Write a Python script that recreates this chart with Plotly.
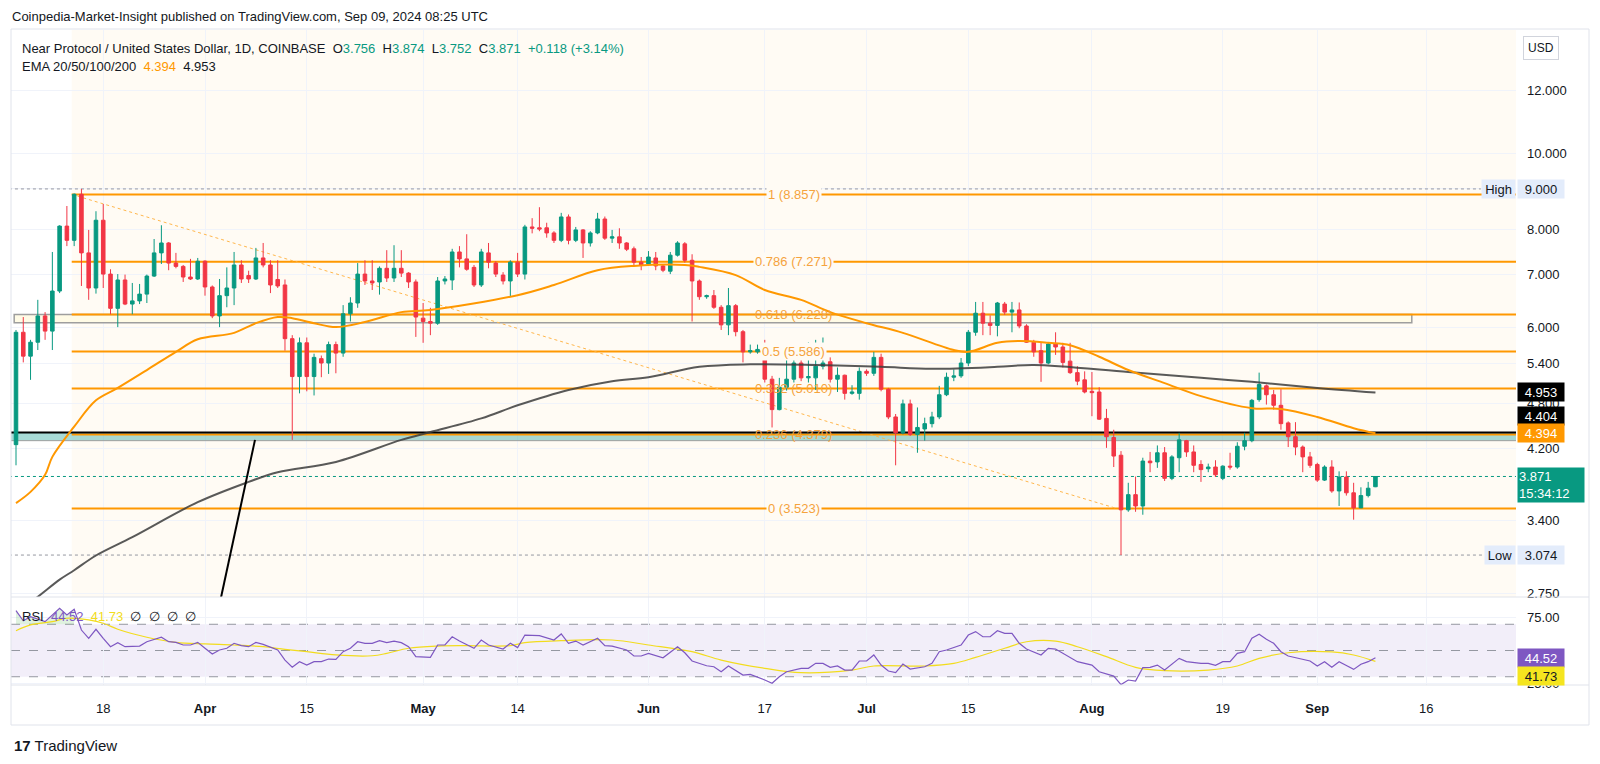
import math
import pandas as pd
import plotly.graph_objects as go
from plotly.subplots import make_subplots

# NEAR/USD daily candles (Coinbase), 6 Mar - 9 Sep 2024
dates = pd.date_range("2024-03-06", "2024-09-09", freq="D")

opens = [
    4.25, 5.91, 5.51, 5.74, 6.20, 5.93, 6.67, 8.07, 7.74, 8.86, 7.46, 6.73, 8.21, 7.01, 6.34, 6.89, 6.42, 6.48, 6.61, 6.97, 7.46, 7.68, 7.24, 7.17, 6.95, 6.91,
    7.28, 6.75, 6.20, 6.58, 6.73, 7.20, 6.98, 6.91, 7.35, 7.20, 6.90, 6.79, 5.80, 5.19, 5.73, 5.19, 5.47, 5.40, 5.70, 5.56, 6.24, 6.44, 7.01, 6.87, 6.85, 7.13, 6.93, 7.13, 7.03, 6.85,
    6.16, 6.10, 6.07, 6.87, 6.89, 7.48, 7.33, 7.15, 6.79, 7.46, 7.24, 6.99, 6.87, 7.26, 7.01, 8.05, 8.03, 8.03, 7.91, 7.74, 8.29, 7.74, 7.98, 7.68, 7.91, 8.24, 7.79, 7.82, 7.68, 7.55, 7.26,
    7.22, 7.35, 7.18, 7.07, 7.41, 7.66, 7.30, 6.87, 6.56, 6.58, 6.36, 6.04, 6.39, 5.92, 5.58, 5.58, 5.62, 5.15, 4.71, 5.03, 5.15, 5.40, 5.17, 5.17, 5.35, 5.42, 5.15, 5.21, 4.94, 4.94,
    5.27, 5.24, 5.49, 5.00, 4.61, 4.40, 4.79, 4.38, 4.45, 4.52, 4.61, 4.92, 5.18, 5.20, 5.40, 5.91, 6.25, 6.07, 6.03, 6.42, 6.27, 6.31, 6.02, 5.74, 5.60, 5.40, 5.71, 5.66, 5.43, 5.25, 5.14,
    4.97, 4.96, 4.59, 4.34, 4.12, 3.51, 3.67, 3.55, 4.05, 4.04, 4.15, 3.85, 4.09, 4.30, 4.16, 4.01, 3.96, 3.98, 3.85, 3.99, 3.98, 4.23, 4.30, 4.85, 5.05, 4.92, 4.77, 4.53, 4.35, 4.22, 4.10,
    4.01, 3.83, 3.98, 3.71, 3.865, 3.69, 3.53, 3.66, 3.756,
]
highs = [
    5.95, 6.18, 5.78, 6.50, 6.27, 7.48, 8.09, 8.56, 8.88, 9.00, 7.98, 8.43, 8.61, 7.11, 7.01, 7.00, 6.83, 6.81, 7.00, 7.77, 8.09, 7.70, 7.46, 7.20, 7.33, 7.35,
    7.30, 6.78, 6.91, 7.15, 7.48, 7.30, 7.08, 7.57, 7.68, 7.30, 7.30, 6.90, 5.86, 5.82, 5.82, 5.55, 5.52, 5.75, 5.75, 6.40, 6.55, 7.24, 7.30, 7.30, 7.17, 7.52, 7.63, 7.52, 7.05, 6.90,
    6.44, 6.35, 6.95, 6.97, 7.55, 7.61, 7.88, 7.20, 7.55, 7.68, 7.28, 7.05, 7.30, 7.46, 8.10, 8.26, 8.53, 8.15, 7.95, 8.39, 8.35, 8.05, 8.00, 7.95, 8.39, 8.30, 7.98, 8.02, 7.70, 7.60, 7.37,
    7.50, 7.48, 7.20, 7.48, 7.72, 7.70, 7.43, 6.90, 6.60, 6.69, 6.40, 6.73, 6.42, 5.95, 5.70, 5.70, 5.78, 5.20, 5.17, 5.49, 5.45, 5.50, 5.74, 5.78, 5.82, 5.49, 5.33, 5.22, 5.06, 5.33,
    5.30, 5.58, 5.55, 5.02, 4.65, 4.85, 4.85, 4.74, 4.60, 4.68, 5.05, 5.25, 5.30, 5.48, 5.95, 6.46, 6.46, 6.21, 6.46, 6.46, 6.46, 6.45, 6.05, 5.78, 5.73, 5.73, 5.91, 5.73, 5.73, 5.35, 5.27,
    5.26, 5.03, 4.72, 4.44, 4.17, 3.80, 3.87, 4.09, 4.16, 4.24, 4.22, 4.12, 4.40, 4.31, 4.24, 4.06, 4.02, 4.06, 4.00, 4.15, 4.28, 4.40, 4.86, 5.25, 5.07, 4.99, 5.00, 4.55, 4.54, 4.24, 4.16,
    4.03, 4.00, 4.06, 3.93, 3.93, 3.80, 3.75, 3.81, 3.874,
]
lows = [
    4.00, 5.41, 5.14, 5.61, 5.78, 5.61, 6.63, 7.61, 7.61, 6.77, 6.50, 6.62, 6.73, 6.23, 6.00, 6.40, 6.23, 6.42, 6.44, 6.95, 7.22, 7.09, 7.13, 6.85, 6.89, 6.89,
    6.58, 6.16, 6.00, 6.36, 6.40, 6.83, 6.83, 6.89, 7.15, 6.63, 6.73, 5.60, 4.31, 4.94, 4.97, 4.91, 5.18, 5.23, 5.24, 5.50, 6.10, 6.35, 6.79, 6.69, 6.60, 6.85, 6.85, 6.95, 6.73, 5.83,
    5.73, 5.86, 6.04, 6.80, 6.69, 7.15, 7.08, 6.75, 6.75, 7.13, 6.95, 6.80, 6.56, 6.95, 6.90, 7.90, 7.95, 7.80, 7.68, 7.70, 7.65, 7.70, 7.35, 7.60, 7.88, 7.75, 7.68, 7.55, 7.50, 7.18, 7.09,
    7.18, 7.09, 7.05, 7.01, 7.38, 7.25, 6.10, 6.50, 6.52, 6.33, 5.95, 5.86, 5.84, 5.41, 5.55, 5.55, 5.10, 4.47, 4.70, 4.98, 5.10, 5.12, 5.10, 4.99, 5.30, 5.10, 4.96, 4.85, 4.92, 4.85,
    5.20, 5.20, 4.97, 4.58, 4.00, 4.38, 4.36, 4.15, 4.30, 4.47, 4.58, 4.90, 5.12, 5.17, 5.35, 5.85, 5.86, 5.86, 5.84, 6.22, 5.91, 5.98, 5.73, 5.50, 5.11, 5.38, 5.53, 5.33, 5.23, 5.06, 4.94,
    4.62, 4.57, 4.21, 3.98, 3.074, 3.49, 3.49, 3.46, 3.92, 3.97, 3.82, 3.83, 3.92, 4.10, 3.92, 3.81, 3.92, 3.865, 3.83, 3.95, 3.96, 4.18, 4.28, 4.82, 4.78, 4.71, 4.44, 4.22, 4.12, 3.92, 3.97,
    3.81, 3.82, 3.69, 3.55, 3.66, 3.41, 3.53, 3.64, 3.752,
]
closes = [
    5.91, 5.51, 5.74, 6.20, 5.93, 6.67, 8.07, 7.74, 8.86, 7.46, 6.73, 8.21, 7.01, 6.34, 6.89, 6.42, 6.48, 6.61, 6.97, 7.46, 7.68, 7.24, 7.17, 6.95, 6.91, 7.28,
    6.75, 6.20, 6.58, 6.73, 7.20, 6.91, 6.91, 7.35, 7.20, 6.79, 6.77, 5.80, 5.19, 5.73, 5.19, 5.49, 5.40, 5.70, 5.56, 6.24, 6.44, 7.01, 6.87, 6.83, 7.13, 6.93, 7.13, 7.03, 6.85, 6.18,
    6.10, 6.07, 6.87, 6.91, 7.48, 7.33, 7.11, 6.79, 7.48, 7.26, 7.01, 6.87, 7.26, 7.01, 8.05, 8.02, 8.00, 7.91, 7.74, 8.29, 7.74, 7.98, 7.68, 7.91, 8.24, 7.79, 7.82, 7.68, 7.54, 7.26, 7.20,
    7.37, 7.18, 7.09, 7.41, 7.68, 7.30, 6.87, 6.56, 6.58, 6.36, 6.04, 6.39, 5.92, 5.58, 5.60, 5.62, 5.15, 4.71, 5.03, 5.15, 5.40, 5.17, 5.19, 5.35, 5.40, 5.15, 5.21, 4.94, 4.96, 5.27,
    5.24, 5.49, 5.00, 4.61, 4.40, 4.79, 4.38, 4.47, 4.52, 4.61, 4.92, 5.18, 5.20, 5.40, 5.91, 6.25, 6.07, 6.03, 6.44, 6.27, 6.31, 6.02, 5.74, 5.58, 5.40, 5.71, 5.66, 5.41, 5.25, 5.12, 4.96,
    4.95, 4.58, 4.35, 4.11, 3.51, 3.67, 3.55, 4.05, 4.03, 4.15, 3.85, 4.10, 4.31, 4.16, 4.00, 3.95, 3.98, 3.89, 3.99, 3.98, 4.23, 4.30, 4.84, 5.07, 4.92, 4.77, 4.52, 4.35, 4.22, 4.10, 4.00,
    3.83, 3.98, 3.71, 3.865, 3.69, 3.53, 3.66, 3.74, 3.871,
]

# EMA lines
ema_orange_dates = ["2024-03-06", "2024-03-08", "2024-03-10", "2024-03-11", "2024-03-14", "2024-03-17", "2024-03-20", "2024-03-24",
                    "2024-03-28", "2024-03-31", "2024-04-05", "2024-04-08", "2024-04-11", "2024-04-13", "2024-04-16", "2024-04-19",
                    "2024-04-23", "2024-04-28", "2024-05-02", "2024-05-14", "2024-05-19", "2024-05-25", "2024-05-30", "2024-06-06",
                    "2024-06-08", "2024-06-13", "2024-06-17", "2024-06-22", "2024-06-26", "2024-07-01", "2024-07-06", "2024-07-13",
                    "2024-07-15", "2024-07-19", "2024-07-22", "2024-07-26", "2024-07-29", "2024-08-02", "2024-08-06", "2024-08-11",
                    "2024-08-16", "2024-08-23", "2024-08-27", "2024-09-01", "2024-09-06", "2024-09-09"]
ema_orange = [3.58, 3.70, 3.89, 4.10, 4.48, 4.84, 5.02, 5.29, 5.58, 5.79, 5.90, 6.07, 6.18, 6.16, 6.07, 6.00,
              6.09, 6.27, 6.31, 6.59, 6.79, 7.09, 7.18, 7.20, 7.16, 6.99, 6.69, 6.50, 6.27, 6.07, 5.90, 5.61,
              5.58, 5.73, 5.76, 5.73, 5.69, 5.50, 5.29, 5.09, 4.90, 4.73, 4.72, 4.61, 4.46, 4.394]

ema_grey_dates = ["2024-03-06", "2024-03-09", "2024-03-12", "2024-03-14", "2024-03-17", "2024-03-22", "2024-03-31", "2024-04-07",
                  "2024-04-11", "2024-04-19", "2024-04-28", "2024-05-02", "2024-05-09", "2024-05-14", "2024-05-21", "2024-05-27",
                  "2024-06-01", "2024-06-08", "2024-06-15", "2024-06-24", "2024-07-03", "2024-07-10", "2024-07-19", "2024-07-24",
                  "2024-08-06", "2024-08-16", "2024-08-23", "2024-09-01", "2024-09-09"]
ema_grey = [2.60, 2.72, 2.86, 2.94, 3.07, 3.24, 3.59, 3.81, 3.92, 4.04, 4.31, 4.41, 4.59, 4.77, 4.99, 5.12,
            5.18, 5.34, 5.38, 5.37, 5.34, 5.31, 5.34, 5.37, 5.26, 5.17, 5.11, 5.02, 4.953]

# RSI(14) and its moving average
rsi_dates = ["2024-03-06", "2024-03-07", "2024-03-08", "2024-03-10", "2024-03-12", "2024-03-13", "2024-03-14", "2024-03-15",
             "2024-03-16", "2024-03-17", "2024-03-18", "2024-03-19", "2024-03-20", "2024-03-21", "2024-03-23", "2024-03-24",
             "2024-03-26", "2024-03-27", "2024-03-28", "2024-03-29", "2024-03-30", "2024-03-31", "2024-04-01", "2024-04-02",
             "2024-04-03", "2024-04-04", "2024-04-05", "2024-04-06", "2024-04-07", "2024-04-08", "2024-04-09", "2024-04-11",
             "2024-04-12", "2024-04-13", "2024-04-14", "2024-04-15", "2024-04-16", "2024-04-17", "2024-04-18", "2024-04-19",
             "2024-04-20", "2024-04-21", "2024-04-22", "2024-04-23", "2024-04-24", "2024-04-25", "2024-04-26", "2024-04-27",
             "2024-04-28", "2024-04-29", "2024-04-30", "2024-05-01", "2024-05-02", "2024-05-03", "2024-05-04", "2024-05-05",
             "2024-05-06", "2024-05-08", "2024-05-09", "2024-05-10", "2024-05-12", "2024-05-13", "2024-05-14", "2024-05-15",
             "2024-05-17", "2024-05-19", "2024-05-20", "2024-05-21", "2024-05-22", "2024-05-23", "2024-05-25", "2024-05-26",
             "2024-05-27", "2024-05-29", "2024-05-30", "2024-05-31", "2024-06-01", "2024-06-03", "2024-06-05", "2024-06-06",
             "2024-06-07", "2024-06-09", "2024-06-10", "2024-06-11", "2024-06-12", "2024-06-14", "2024-06-15", "2024-06-17",
             "2024-06-18", "2024-06-19", "2024-06-20", "2024-06-22", "2024-06-23", "2024-06-24", "2024-06-25", "2024-06-26",
             "2024-06-27", "2024-06-28", "2024-06-29", "2024-06-30", "2024-07-01", "2024-07-02", "2024-07-03", "2024-07-04",
             "2024-07-05", "2024-07-06", "2024-07-07", "2024-07-09", "2024-07-10", "2024-07-11", "2024-07-12", "2024-07-14",
             "2024-07-15", "2024-07-16", "2024-07-17", "2024-07-18", "2024-07-19", "2024-07-20", "2024-07-21", "2024-07-22",
             "2024-07-23", "2024-07-25", "2024-07-26", "2024-07-27", "2024-07-29", "2024-07-30", "2024-08-01", "2024-08-02",
             "2024-08-04", "2024-08-05", "2024-08-06", "2024-08-07", "2024-08-08", "2024-08-09", "2024-08-10", "2024-08-11",
             "2024-08-13", "2024-08-14", "2024-08-16", "2024-08-17", "2024-08-18", "2024-08-19", "2024-08-20", "2024-08-21",
             "2024-08-22", "2024-08-23", "2024-08-24", "2024-08-25", "2024-08-26", "2024-08-27", "2024-08-28", "2024-08-30",
             "2024-08-31", "2024-09-01", "2024-09-02", "2024-09-03", "2024-09-04", "2024-09-05", "2024-09-06", "2024-09-07",
             "2024-09-08", "2024-09-09"]
rsi_vals = [80.4, 72.7, 75.8, 72.0, 82.2, 77.1, 81.4, 65.6, 59.3, 66.2, 59.3, 52.9, 56.0, 52.9, 53.4, 56.7,
            60.1, 56.7, 56.2, 54.2, 54.2, 56.2, 51.7, 47.3, 50.4, 51.7, 55.5, 53.7, 52.9, 56.2, 54.7, 50.4,
            42.7, 37.2, 41.5, 38.9, 41.5, 41.5, 43.5, 43.3, 49.1, 51.7, 56.7, 55.5, 55.5, 57.5, 56.0, 57.2,
            56.0, 52.9, 45.3, 44.8, 44.8, 54.2, 54.2, 60.5, 57.2, 51.7, 58.0, 54.2, 51.1, 55.5, 52.2, 61.8,
            61.3, 58.0, 62.6, 55.5, 57.2, 54.2, 59.3, 53.7, 53.4, 50.4, 45.8, 45.8, 47.8, 44.5, 52.9, 48.3,
            42.0, 38.4, 37.6, 33.8, 38.2, 31.3, 31.8, 27.5, 25.0, 30.0, 33.8, 36.4, 36.4, 40.2, 40.2, 37.2,
            38.2, 35.1, 35.1, 42.0, 42.0, 46.6, 38.9, 34.4, 33.1, 39.7, 35.9, 37.6, 40.2, 49.1, 50.4, 54.2,
            61.8, 64.4, 60.5, 60.5, 65.1, 63.1, 63.1, 55.5, 51.1, 46.6, 51.7, 51.1, 44.5, 41.5, 38.9, 33.8,
            30.5, 24.0, 27.5, 26.7, 36.9, 37.2, 38.9, 35.1, 44.0, 41.5, 40.2, 40.2, 38.7, 41.5, 41.5, 47.8,
            49.1, 59.3, 62.4, 58.5, 55.5, 49.1, 45.8, 43.5, 42.0, 38.2, 41.5, 37.2, 41.5, 38.5, 35.6, 39.5,
            41.5, 44.52]

rsi_ma_dates = ["2024-03-06", "2024-03-08", "2024-03-11", "2024-03-13", "2024-03-16", "2024-03-18", "2024-03-20", "2024-03-24",
                "2024-03-28", "2024-04-01", "2024-04-05", "2024-04-09", "2024-04-12", "2024-04-15", "2024-04-19", "2024-04-24",
                "2024-04-26", "2024-04-29", "2024-05-03", "2024-05-07", "2024-05-13", "2024-05-15", "2024-05-20", "2024-05-27",
                "2024-06-01", "2024-06-07", "2024-06-11", "2024-06-17", "2024-06-22", "2024-06-29", "2024-07-02", "2024-07-09",
                "2024-07-13", "2024-07-16", "2024-07-20", "2024-07-23", "2024-07-27", "2024-07-30", "2024-08-03", "2024-08-07",
                "2024-08-11", "2024-08-17", "2024-08-21", "2024-08-24", "2024-08-28", "2024-09-03", "2024-09-06", "2024-09-09"]
rsi_ma_vals = [65.1, 69.5, 72.0, 74.6, 73.3, 70.8, 66.2, 60.1, 56.2, 55.0, 54.2, 52.9, 50.9, 49.1, 46.6, 46.0,
               47.8, 51.7, 53.4, 53.7, 53.7, 56.0, 57.5, 58.0, 54.2, 49.1, 42.7, 36.4, 33.1, 35.1, 38.2, 38.2,
               40.2, 44.8, 51.7, 56.7, 57.2, 52.9, 45.3, 37.2, 34.6, 35.1, 38.2, 44.0, 48.3, 48.9, 46.6, 41.73]

# Fibonacci retracement (from the 14 Mar high to the 4 Aug low)
fib_start = "2024-03-13 16:00"
fib_end = "2024-08-04 11:00"
fib_ratios = ["1", "0.786", "0.618", "0.5", "0.382", "0.236", "0"]
fib_prices = [8.857, 7.271, 6.228, 5.586, 5.010, 4.379, 3.523]
fib_label_date = "2024-06-21"

# other drawings
box_prices = [6.228, 6.078]          # grey rectangle
band_prices = [4.404, 4.30]          # teal band + black horizontal line
trend_dates = ["2024-04-02 23:00", "2024-04-07 21:00"]
trend_prices = [2.65, 4.31]
high_price, low_price = 9.000, 3.074
last_close, countdown = 3.871, "15:34:12"
ema_last = [4.394, 4.953]
rsi_last, rsi_ma_last = 44.52, 41.73

price_ticks = [2.75, 3.4, 4.2, 4.8, 5.4, 6, 7, 8, 9, 10, 12]
price_tick_text = ["2.750", "3.400", "4.200", "4.800", "5.400", "6.000", "7.000", "8.000", "9.000", "10.000", "12.000"]
date_ticks = ["2024-03-18", "2024-04-01", "2024-04-15", "2024-05-01", "2024-05-14", "2024-06-01", "2024-06-17",
              "2024-07-01", "2024-07-15", "2024-08-01", "2024-08-19", "2024-09-01", "2024-09-16"]
date_tick_text = ["18", "<b>Apr</b>", "15", "<b>May</b>", "14", "<b>Jun</b>", "17", "<b>Jul</b>", "15",
                  "<b>Aug</b>", "19", "<b>Sep</b>", "16"]

GREEN, RED, ORANGE, TEXT = "#089981", "#f23645", "#ff9800", "#131722"
FONT = "Liberation Sans, Arial, sans-serif"

# pixel frame of the plotting area
L, R, T, B = 11, 1516, 30, 685


def px(x):
    return (x - L) / (R - L)


def py(y):
    return (B - y) / (B - T)


fig = make_subplots(rows=2, cols=1, shared_xaxes=True, vertical_spacing=0, row_heights=[567, 88])

fig.add_trace(go.Scatter(x=ema_grey_dates, y=ema_grey, mode="lines", line=dict(color="rgba(60,60,60,0.85)", width=2, shape="spline"),
                         hoverinfo="skip", showlegend=False), row=1, col=1)
fig.add_trace(go.Scatter(x=ema_orange_dates, y=ema_orange, mode="lines", line=dict(color=ORANGE, width=2, shape="spline"),
                         hoverinfo="skip", showlegend=False), row=1, col=1)
fig.add_trace(go.Candlestick(x=dates, open=opens, high=highs, low=lows, close=closes,
                             increasing=dict(line=dict(color=GREEN, width=1), fillcolor=GREEN),
                             decreasing=dict(line=dict(color=RED, width=1), fillcolor=RED),
                             whiskerwidth=0, hoverinfo="skip", showlegend=False), row=1, col=1)

# RSI pane
fig.add_trace(go.Scatter(x=rsi_dates[:7], y=[70] * 7, mode="lines", line=dict(width=0), hoverinfo="skip", showlegend=False), row=2, col=1)
fig.add_trace(go.Scatter(x=rsi_dates[:7], y=rsi_vals[:7], mode="lines", line=dict(width=0), fill="tonexty",
                         fillcolor="rgba(76,175,80,0.18)", hoverinfo="skip", showlegend=False), row=2, col=1)
fig.add_trace(go.Scatter(x=rsi_ma_dates, y=rsi_ma_vals, mode="lines", line=dict(color="#f2dc1d", width=1.2, shape="spline"),
                         hoverinfo="skip", showlegend=False), row=2, col=1)
fig.add_trace(go.Scatter(x=rsi_dates, y=rsi_vals, mode="lines", line=dict(color="#7e57c2", width=1.2),
                         hoverinfo="skip", showlegend=False), row=2, col=1)

shapes = []
# cream background of the drawing
shapes.append(dict(type="rect", xref="x", yref="y domain", x0=fib_start, x1="2024-10-20", y0=0, y1=1,
                   fillcolor="#fffbf4", line=dict(width=0), layer="below"))
# grey rectangle
shapes.append(dict(type="rect", xref="x", yref="y", x0="2024-03-05 18:00", x1="2024-09-14", y0=box_prices[1], y1=box_prices[0],
                   fillcolor="#fffbe6", line=dict(color="#9e9e9e", width=1.5), layer="between"))
# teal band
shapes.append(dict(type="rect", xref="x", yref="y", x0="2024-02-20", x1="2024-10-20", y0=band_prices[1], y1=band_prices[0],
                   fillcolor="rgba(38,166,154,0.4)", line=dict(color="#9e9e9e", width=1), layer="between"))
# fib levels
for p in fib_prices:
    shapes.append(dict(type="line", xref="x", yref="y", x0=fib_start, x1="2024-10-20", y0=p, y1=p,
                       line=dict(color=ORANGE, width=2), layer="between"))
shapes.append(dict(type="line", xref="x", yref="y", x0=fib_start, x1=fib_end, y0=fib_prices[0], y1=fib_prices[-1],
                   line=dict(color="#ffb74d", width=1, dash="dot"), layer="between"))
# black horizontal line on the band
shapes.append(dict(type="line", xref="x", yref="y", x0="2024-02-20", x1="2024-10-20", y0=band_prices[0], y1=band_prices[0],
                   line=dict(color="#000000", width=2), layer="between"))
# steep black trend line
shapes.append(dict(type="line", xref="x", yref="y", x0=trend_dates[0], x1=trend_dates[1], y0=trend_prices[0], y1=trend_prices[1],
                   line=dict(color="#000000", width=2), layer="above"))
# high / low / last price dotted lines
shapes.append(dict(type="line", xref="x", yref="y", x0="2024-02-20", x1="2024-09-23 12:00", y0=high_price, y1=high_price,
                   line=dict(color="#9598a1", width=1, dash="dot"), layer="between"))
shapes.append(dict(type="line", xref="x", yref="y", x0="2024-02-20", x1="2024-09-23 20:00", y0=low_price, y1=low_price,
                   line=dict(color="#9598a1", width=1, dash="dot"), layer="between"))
shapes.append(dict(type="line", xref="x", yref="y", x0="2024-02-20", x1="2024-10-20", y0=last_close, y1=last_close,
                   line=dict(color=GREEN, width=1, dash="dot"), layer="between"))
# RSI band and levels
shapes.append(dict(type="rect", xref="x2 domain", yref="y2", x0=0, x1=1, y0=30, y1=70,
                   fillcolor="rgba(126,87,194,0.1)", line=dict(width=0), layer="below"))
for lvl in [70, 50, 30]:
    shapes.append(dict(type="line", xref="x2 domain", yref="y2", x0=0, x1=1, y0=lvl, y1=lvl,
                       line=dict(color="#9598a1", width=1, dash="dash"), layer="below"))
# pane borders
for yy in [29, 597, 685, 725]:
    shapes.append(dict(type="line", xref="paper", yref="paper", x0=px(11), x1=px(1589), y0=py(yy), y1=py(yy),
                       line=dict(color="#e0e3eb", width=1)))
for xx in [11, 1589]:
    shapes.append(dict(type="line", xref="paper", yref="paper", x0=px(xx), x1=px(xx), y0=py(29), y1=py(725),
                       line=dict(color="#e0e3eb", width=1)))

ann = []
ann.append(dict(xref="paper", yref="paper", x=px(10), y=py(17), xanchor="left", yanchor="middle", showarrow=False,
                text="Coinpedia-Market-Insight published on TradingView.com, Sep 09, 2024 08:25 UTC",
                font=dict(size=13, color=TEXT)))
sp = "\u00a0\u00a0"
g = lambda s: f"<span style='color:{GREEN}'>{s}</span>"
ann.append(dict(xref="paper", yref="paper", x=px(20), y=py(48), xanchor="left", yanchor="middle", showarrow=False,
                text="Near Protocol / United States Dollar, 1D, COINBASE" + sp + "O" + g("3.756") + sp + "H" + g("3.874")
                     + sp + "L" + g("3.752") + sp + "C" + g("3.871") + sp + g("+0.118 (+3.14%)"),
                font=dict(size=13, color=TEXT)))
ann.append(dict(xref="paper", yref="paper", x=px(20), y=py(66), xanchor="left", yanchor="middle", showarrow=False,
                text="EMA 20/50/100/200" + sp + f"<span style='color:{ORANGE}'>{ema_last[0]:.3f}</span>" + sp + f"{ema_last[1]:.3f}",
                font=dict(size=13, color=TEXT)))
ann.append(dict(xref="paper", yref="paper", x=px(20), y=py(616), xanchor="left", yanchor="middle", showarrow=False,
                text="RSI" + sp + f"<span style='color:#7e57c2'>{rsi_last:.2f}</span>" + sp
                     + f"<span style='color:#f2dc1d'>{rsi_ma_last:.2f}</span>" + sp + "\u2205\u00a0\u00a0\u2205\u00a0\u00a0\u2205\u00a0\u00a0\u2205",
                font=dict(size=13, color=TEXT)))

# fib labels
for r, p in zip(fib_ratios, fib_prices):
    gap = r in ("1", "0.786", "0.5", "0")
    ann.append(dict(xref="x", yref="y", x=fib_label_date, y=math.log10(p), showarrow=False, xanchor="center", yanchor="middle",
                    text=f"{r} ({p:.3f})", font=dict(size=13, color="#f5a33d"),
                    bgcolor="#fffbf4" if gap else "rgba(0,0,0,0)", borderpad=1))


def price_box(val, text, bg, fg, yshift=0, width=44, height=16):
    ann.append(dict(xref="paper", yref="y", x=px(1517), y=math.log10(val), xanchor="left", yanchor="middle", showarrow=False,
                    text=text, font=dict(size=13, color=fg), bgcolor=bg, width=width, height=height, borderpad=1,
                    align="center", yshift=yshift))


LIGHT = "#e3ecfb"
price_box(high_price, f"{high_price:.3f}", LIGHT, TEXT)
price_box(low_price, f"{low_price:.3f}", LIGHT, TEXT)
ann.append(dict(xref="paper", yref="y", x=px(1516), y=math.log10(high_price), xanchor="right", yanchor="middle", showarrow=False,
                text="High", font=dict(size=13, color=TEXT), bgcolor=LIGHT, width=31, height=16, borderpad=1))
ann.append(dict(xref="paper", yref="y", x=px(1516), y=math.log10(low_price), xanchor="right", yanchor="middle", showarrow=False,
                text="Low", font=dict(size=13, color=TEXT), bgcolor=LIGHT, width=28, height=16, borderpad=1))
price_box(ema_last[1], f"{ema_last[1]:.3f}", "#000000", "#ffffff")
price_box(band_prices[0], f"{band_prices[0]:.3f}", "#000000", "#ffffff", yshift=17)
price_box(ema_last[0], f"{ema_last[0]:.3f}", ORANGE, "#ffffff")
ann.append(dict(xref="paper", yref="y", x=px(1517), y=math.log10(last_close), xanchor="left", yanchor="top", showarrow=False,
                text=f"{last_close:.3f}<br>{countdown}", font=dict(size=13, color="#ffffff"), bgcolor=GREEN,
                width=64, height=32, borderpad=1, align="left", yshift=9))
ann.append(dict(xref="paper", yref="y2", x=px(1517), y=rsi_last, xanchor="left", yanchor="middle", showarrow=False,
                text=f"{rsi_last:.2f}", font=dict(size=13, color="#ffffff"), bgcolor="#7e57c2", width=44, height=16, borderpad=1))
ann.append(dict(xref="paper", yref="y2", x=px(1517), y=rsi_ma_last, xanchor="left", yanchor="middle", showarrow=False,
                text=f"{rsi_ma_last:.2f}", font=dict(size=13, color=TEXT), bgcolor="#f5e51f", width=44, height=16, borderpad=1,
                yshift=-15))
ann.append(dict(xref="paper", yref="paper", x=px(1541), y=py(48), xanchor="center", yanchor="middle", showarrow=False,
                text="USD", font=dict(size=12, color=TEXT), bordercolor="#d1d4dc", borderwidth=1, borderpad=4, bgcolor="#ffffff"))
ann.append(dict(xref="paper", yref="paper", x=px(12), y=py(745), xanchor="left", yanchor="middle", showarrow=False,
                text="<b>17</b> TradingView", font=dict(size=15, color=TEXT)))

fig.update_layout(
    width=1600, height=764, autosize=False,
    margin=dict(l=L, r=1600 - R, t=T, b=764 - B),
    paper_bgcolor="#ffffff", plot_bgcolor="#ffffff",
    font=dict(family=FONT, color=TEXT, size=13),
    shapes=shapes, annotations=ann,
    showlegend=False, hovermode=False,
)
x_range = ["2024-03-05 07:30", "2024-09-28 08:00"]
fig.update_xaxes(range=x_range, type="date", showgrid=True, gridcolor="#f0f3fa", gridwidth=1, zeroline=False,
                 tickvals=date_ticks, ticktext=date_tick_text, ticks="", showline=False)
fig.update_xaxes(showticklabels=False, rangeslider_visible=False, row=1, col=1)
fig.update_xaxes(showticklabels=True, tickfont=dict(size=13, color=TEXT), ticklabelstandoff=14, row=2, col=1)
fig.update_yaxes(type="log", side="right", range=[math.log10(2.718), math.log10(14.347)], tickvals=price_ticks,
                 ticktext=price_tick_text, showgrid=True, gridcolor="#f0f3fa", zeroline=False, ticks="",
                 tickfont=dict(size=13, color=TEXT), ticklabelstandoff=10, row=1, col=1)
fig.update_yaxes(side="right", range=[23.7, 90.8], tickvals=[25, 75], ticktext=["25.00", "75.00"], showgrid=True,
                 gridcolor="#f0f3fa", zeroline=False, ticks="", tickfont=dict(size=13, color=TEXT), ticklabelstandoff=10,
                 row=2, col=1)

fig.write_html("out.html", config={"displayModeBar": False}, post_script="document.body.style.margin='0';")
